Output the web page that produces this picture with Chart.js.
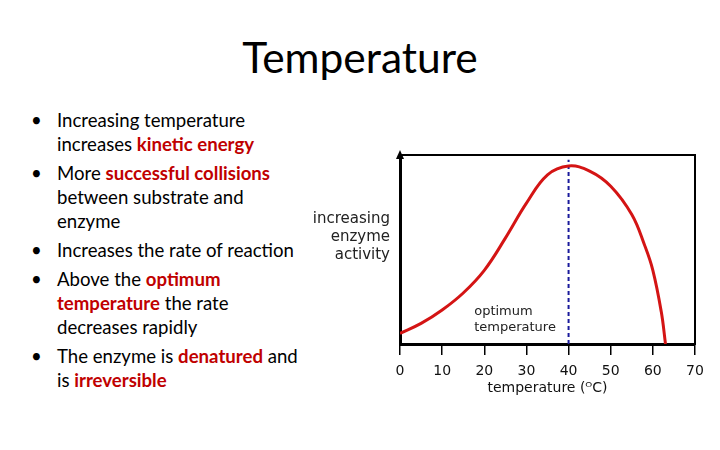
<!DOCTYPE html>
<html>
<head>
<meta charset="utf-8">
<script src="https://cdn.jsdelivr.net/npm/chart.js@4.4.1/dist/chart.umd.min.js"></script>
<style>
  html, body { margin: 0; padding: 0; background: #fff; }
  #slide { position: relative; width: 720px; height: 450px; overflow: hidden; font-family: Lato, "Open Sans", sans-serif; }
  h1 { position: absolute; left: 0; top: 32px; width: 720px; margin: 0; text-align: center; font-weight: 400; font-size: 42.5px; line-height: 50px; color: #000; }
  ul { position: absolute; left: 33px; top: 108px; margin: 0; padding: 0; list-style: none; font-size: 18.6px; line-height: 24px; color: #000; white-space: nowrap; }
  li { position: relative; padding-left: 24px; margin-bottom: 5px; }
  li::before { content: "\2022"; position: absolute; left: -2px; top: 0; }
  b { color: #c00000; }
  #wrap { position: absolute; left: 0; top: 0; width: 720px; height: 450px; }
</style>
</head>
<body>
<div id="slide">
  <h1>Temperature</h1>
  <ul>
    <li>Increasing temperature<br>increases <b>kinetic energy</b></li>
    <li>More <b>successful collisions</b><br>between substrate and<br>enzyme</li>
    <li>Increases the rate of reaction</li>
    <li>Above the <b>optimum</b><br><b>temperature</b> the rate<br>decreases rapidly</li>
    <li>The enzyme is <b>denatured</b> and<br>is <b>irreversible</b></li>
  </ul>
  <div id="wrap"><canvas id="enzymeChart"></canvas></div>
</div>
<script>
// curve (activity in % of the plot height)
const temps = [0, 5, 10, 15, 20, 25, 30, 35, 40, 45, 50, 55, 58, 60, 62, 63];
const activity = [5.6, 10.9, 18, 27, 39, 56, 74.5, 89.5, 94.2, 91.5, 83.5, 68.5, 52.5, 39, 17, 0];
const optimumTemp = 40;
const optimumLine = [0, 97.5];
const xTicks = [0, 10, 20, 30, 40, 50, 60, 70];
const yLabel = ['increasing', 'enzyme', 'activity'];
const optLabel = ['optimum', 'temperature'];

const chartFont = 'DejaVu Sans';

// arrow on the y axis + the two free labels
const annotations = {
  id: 'annotations',
  afterDraw(chart) {
    const { ctx, chartArea, scales } = chart;
    const x = scales.x, y = scales.y;
    ctx.save();
    // arrow head
    ctx.fillStyle = '#000';
    ctx.beginPath();
    ctx.moveTo(chartArea.left, chartArea.top - 5);
    ctx.lineTo(chartArea.left - 4, chartArea.top + 4);
    ctx.lineTo(chartArea.left + 4, chartArea.top + 4);
    ctx.closePath();
    ctx.fill();

    ctx.font = '15px ' + chartFont;
    ctx.fillStyle = '#222';
    ctx.textAlign = 'right';
    ctx.textBaseline = 'middle';
    yLabel.forEach((t, i) => ctx.fillText(t, chartArea.left - 10, y.getPixelForValue(66) + i * 18));

    ctx.font = '13px ' + chartFont;
    ctx.textAlign = 'left';
    optLabel.forEach((t, i) => ctx.fillText(t, x.getPixelForValue(17.6), y.getPixelForValue(17) + i * 16));
    ctx.restore();
  }
};

const frameAxis = (position) => ({
  type: 'linear',
  position: position,
  min: 0, max: position === 'top' ? 70 : 100,
  grid: { display: false },
  ticks: { display: false },
  border: { display: true, color: '#000', width: 2 },
  afterFit(s) { if (position === 'top') s.height = 0; else s.width = 0; }
});

new Chart(document.getElementById('enzymeChart'), {
  type: 'line',
  data: {
    datasets: [{
      label: 'enzyme activity',
      data: temps.map((t, i) => ({ x: t, y: activity[i] })),
      borderColor: '#d41414',
      borderWidth: 3,
      pointRadius: 0,
      tension: 0.4,
      fill: false
    }, {
      label: 'optimum',
      data: optimumLine.map(v => ({ x: optimumTemp, y: v })),
      borderColor: '#1a1a9c',
      borderWidth: 2,
      borderDash: [4, 3],
      pointRadius: 0
    }]
  },
  options: {
    responsive: true,
    maintainAspectRatio: false,
    animation: false,
    layout: { padding: { left: 400, right: 25, top: 155, bottom: 53 } },
    plugins: { legend: { display: false }, tooltip: { enabled: false } },
    scales: {
      x: {
        type: 'linear',
        min: 0, max: 70,
        afterBuildTicks(s) { s.ticks = xTicks.map(v => ({ value: v })); },
        grid: { display: true, drawOnChartArea: false, drawTicks: true, tickLength: 11, color: '#000', lineWidth: 1.5 },
        border: { display: true, color: '#000', width: 3 },
        ticks: { color: '#111', font: { family: chartFont, size: 14 }, padding: 8, maxRotation: 0 },
        title: { display: true, text: 'temperature (ᴼC)', color: '#111', font: { family: chartFont, size: 14 }, padding: { top: 0, bottom: 0 } },
        afterFit(s) { s.height = 53; }
      },
      y: {
        type: 'linear',
        min: 0, max: 100,
        grid: { display: false },
        ticks: { display: false },
        border: { display: true, color: '#000', width: 3 },
        afterFit(s) { s.width = 0; }
      },
      x2: frameAxis('top'),
      y2: frameAxis('right')
    }
  },
  plugins: [annotations]
});
</script>
</body>
</html>
